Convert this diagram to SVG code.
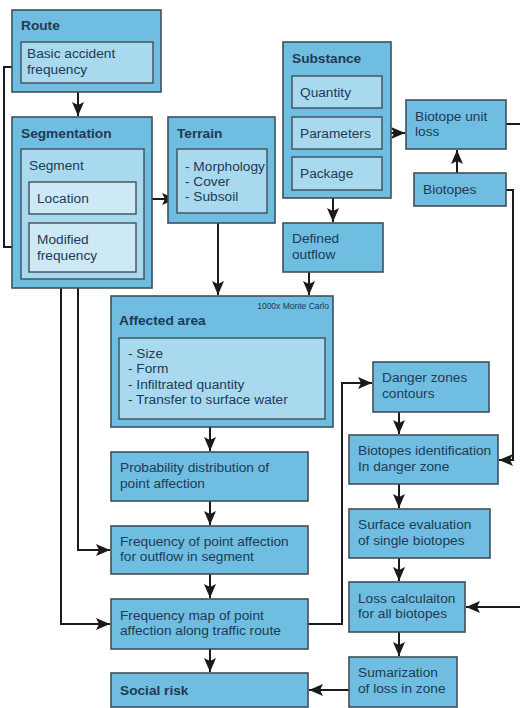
<svg xmlns="http://www.w3.org/2000/svg" width="520" height="708" viewBox="0 0 520 708">
<defs>
<style>
.o{fill:#6fbde0;stroke:#3f4f5a;stroke-width:1.6}
.i{fill:#a9d9ee;stroke:#3f4f5a;stroke-width:1.4}
.ii{fill:#cde9f5;stroke:#3f4f5a;stroke-width:1.4}
text{font-family:"Liberation Sans",Arial,sans-serif;font-size:13.7px;fill:#213a55}
.b{font-weight:bold}
.s{font-size:8.5px}
.c{fill:none;stroke:#1a1a1a;stroke-width:2}
</style>
<marker id="a" viewBox="0 0 14 12" refX="14" refY="6" markerWidth="14" markerHeight="12" markerUnits="userSpaceOnUse" orient="auto">
<path d="M0,0 L14,6 L0,12 L3,6 Z" fill="#1a1a1a"/>
</marker>
</defs>
<rect width="520" height="708" fill="#ffffff"/>
<g id="connectors">
<path class="c" d="M78,92 V116" marker-end="url(#a)"/>
<path class="c" d="M21,67 H4 V247 H28" marker-end="url(#a)"/>
<path class="c" d="M136,199 H176" marker-end="url(#a)"/>
<path class="c" d="M218,213 V295" marker-end="url(#a)"/>
<path class="c" d="M333,198 V222" marker-end="url(#a)"/>
<path class="c" d="M309,272 V295" marker-end="url(#a)"/>
<path class="c" d="M382,133 H405" marker-end="url(#a)"/>
<path class="c" d="M457,173 V150" marker-end="url(#a)"/>
<path class="c" d="M506,124 H520"/>
<path class="c" d="M506,190 H513 V460 H499" marker-end="url(#a)"/>
<path class="c" d="M210,427 V451" marker-end="url(#a)"/>
<path class="c" d="M210,501 V525" marker-end="url(#a)"/>
<path class="c" d="M210,574 V598" marker-end="url(#a)"/>
<path class="c" d="M210,649 V672" marker-end="url(#a)"/>
<path class="c" d="M78,272 V550 H110" marker-end="url(#a)"/>
<path class="c" d="M61,288 V624 H110" marker-end="url(#a)"/>
<path class="c" d="M308,624 H342 V383 H372" marker-end="url(#a)"/>
<path class="c" d="M399,412 V434" marker-end="url(#a)"/>
<path class="c" d="M399,484 V508" marker-end="url(#a)"/>
<path class="c" d="M399,558 V581" marker-end="url(#a)"/>
<path class="c" d="M399,632 V656" marker-end="url(#a)"/>
<path class="c" d="M520,607 H466" marker-end="url(#a)"/>
<path class="c" d="M349,690 H309" marker-end="url(#a)"/>
</g>
<g id="route">
<rect class="o" x="12" y="10" width="149" height="82"/>
<text class="b" x="21" y="30">Route</text>
<rect class="i" x="21" y="42" width="132" height="41"/>
<text x="27" y="58">Basic accident</text>
<text x="27" y="74">frequency</text>
</g>
<g id="segmentation">
<rect class="o" x="12" y="117" width="140" height="171"/>
<text class="b" x="21" y="138">Segmentation</text>
<rect class="i" x="21" y="149" width="123" height="130"/>
<text x="29" y="170">Segment</text>
</g>
<g id="location">
<rect class="ii" x="29" y="182" width="107" height="32"/>
<text x="37" y="203">Location</text>
</g>
<g id="modified-frequency">
<rect class="ii" x="29" y="223" width="107" height="49"/>
<text x="37" y="244">Modified</text>
<text x="37" y="260">frequency</text>
</g>
<g id="terrain">
<rect class="o" x="168" y="117" width="107" height="106"/>
<text class="b" x="177" y="138">Terrain</text>
<rect class="i" x="177" y="149" width="90" height="64"/>
<text x="185" y="171">- Morphology</text>
<text x="185" y="186">- Cover</text>
<text x="185" y="201">- Subsoil</text>
</g>
<g id="substance">
<rect class="o" x="283" y="42" width="108" height="156"/>
<text class="b" x="292" y="63">Substance</text>
</g>
<g id="quantity">
<rect class="i" x="292" y="76" width="90" height="32"/>
<text x="300" y="97">Quantity</text>
</g>
<g id="parameters">
<rect class="i" x="292" y="117" width="90" height="32"/>
<text x="300" y="138">Parameters</text>
</g>
<g id="package">
<rect class="i" x="292" y="157" width="90" height="33"/>
<text x="300" y="178">Package</text>
</g>
<g id="biotope-unit-loss">
<rect class="o" x="406" y="100" width="100" height="49"/>
<text x="415" y="121">Biotope unit</text>
<text x="415" y="136">loss</text>
</g>
<g id="biotopes">
<rect class="o" x="414" y="173" width="92" height="33"/>
<text x="423" y="194">Biotopes</text>
</g>
<g id="defined-outflow">
<rect class="o" x="283" y="223" width="100" height="49"/>
<text x="292" y="243">Defined</text>
<text x="292" y="259">outflow</text>
</g>
<g id="affected-area">
<rect class="o" x="111" y="296" width="222" height="131"/>
<text class="s" x="329" y="309" text-anchor="end">1000x Monte Carlo</text>
<text class="b" x="119" y="325">Affected area</text>
<rect class="i" x="119" y="338" width="206" height="81"/>
<text x="128" y="358">- Size</text>
<text x="128" y="373">- Form</text>
<text x="128" y="389">- Infiltrated quantity</text>
<text x="128" y="404">- Transfer to surface water</text>
</g>
<g id="probability-distribution">
<rect class="o" x="111" y="452" width="197" height="49"/>
<text x="120" y="472">Probability distribution of</text>
<text x="120" y="488">point affection</text>
</g>
<g id="frequency-point-affection">
<rect class="o" x="111" y="526" width="197" height="48"/>
<text x="120" y="546">Frequency of point affection</text>
<text x="120" y="561">for outflow in segment</text>
</g>
<g id="frequency-map">
<rect class="o" x="111" y="599" width="197" height="50"/>
<text x="120" y="620">Frequency map of point</text>
<text x="120" y="635">affection along traffic route</text>
</g>
<g id="social-risk">
<rect class="o" x="111" y="673" width="197" height="34"/>
<text class="b" x="120" y="695">Social risk</text>
</g>
<g id="danger-zones">
<rect class="o" x="373" y="362" width="116" height="50"/>
<text x="382" y="382">Danger zones</text>
<text x="382" y="398">contours</text>
</g>
<g id="biotopes-identification">
<rect class="o" x="349" y="435" width="149" height="49"/>
<text x="358" y="455">Biotopes identification</text>
<text x="358" y="471">In danger zone</text>
</g>
<g id="surface-evaluation">
<rect class="o" x="349" y="509" width="141" height="49"/>
<text x="358" y="529">Surface evaluation</text>
<text x="358" y="545">of single biotopes</text>
</g>
<g id="loss-calculation">
<rect class="o" x="349" y="582" width="116" height="50"/>
<text x="358" y="603">Loss calculaiton</text>
<text x="358" y="618">for all biotopes</text>
</g>
<g id="sumarization">
<rect class="o" x="349" y="657" width="108" height="50"/>
<text x="358" y="677">Sumarization</text>
<text x="358" y="693">of loss in zone</text>
</g>
</svg>
